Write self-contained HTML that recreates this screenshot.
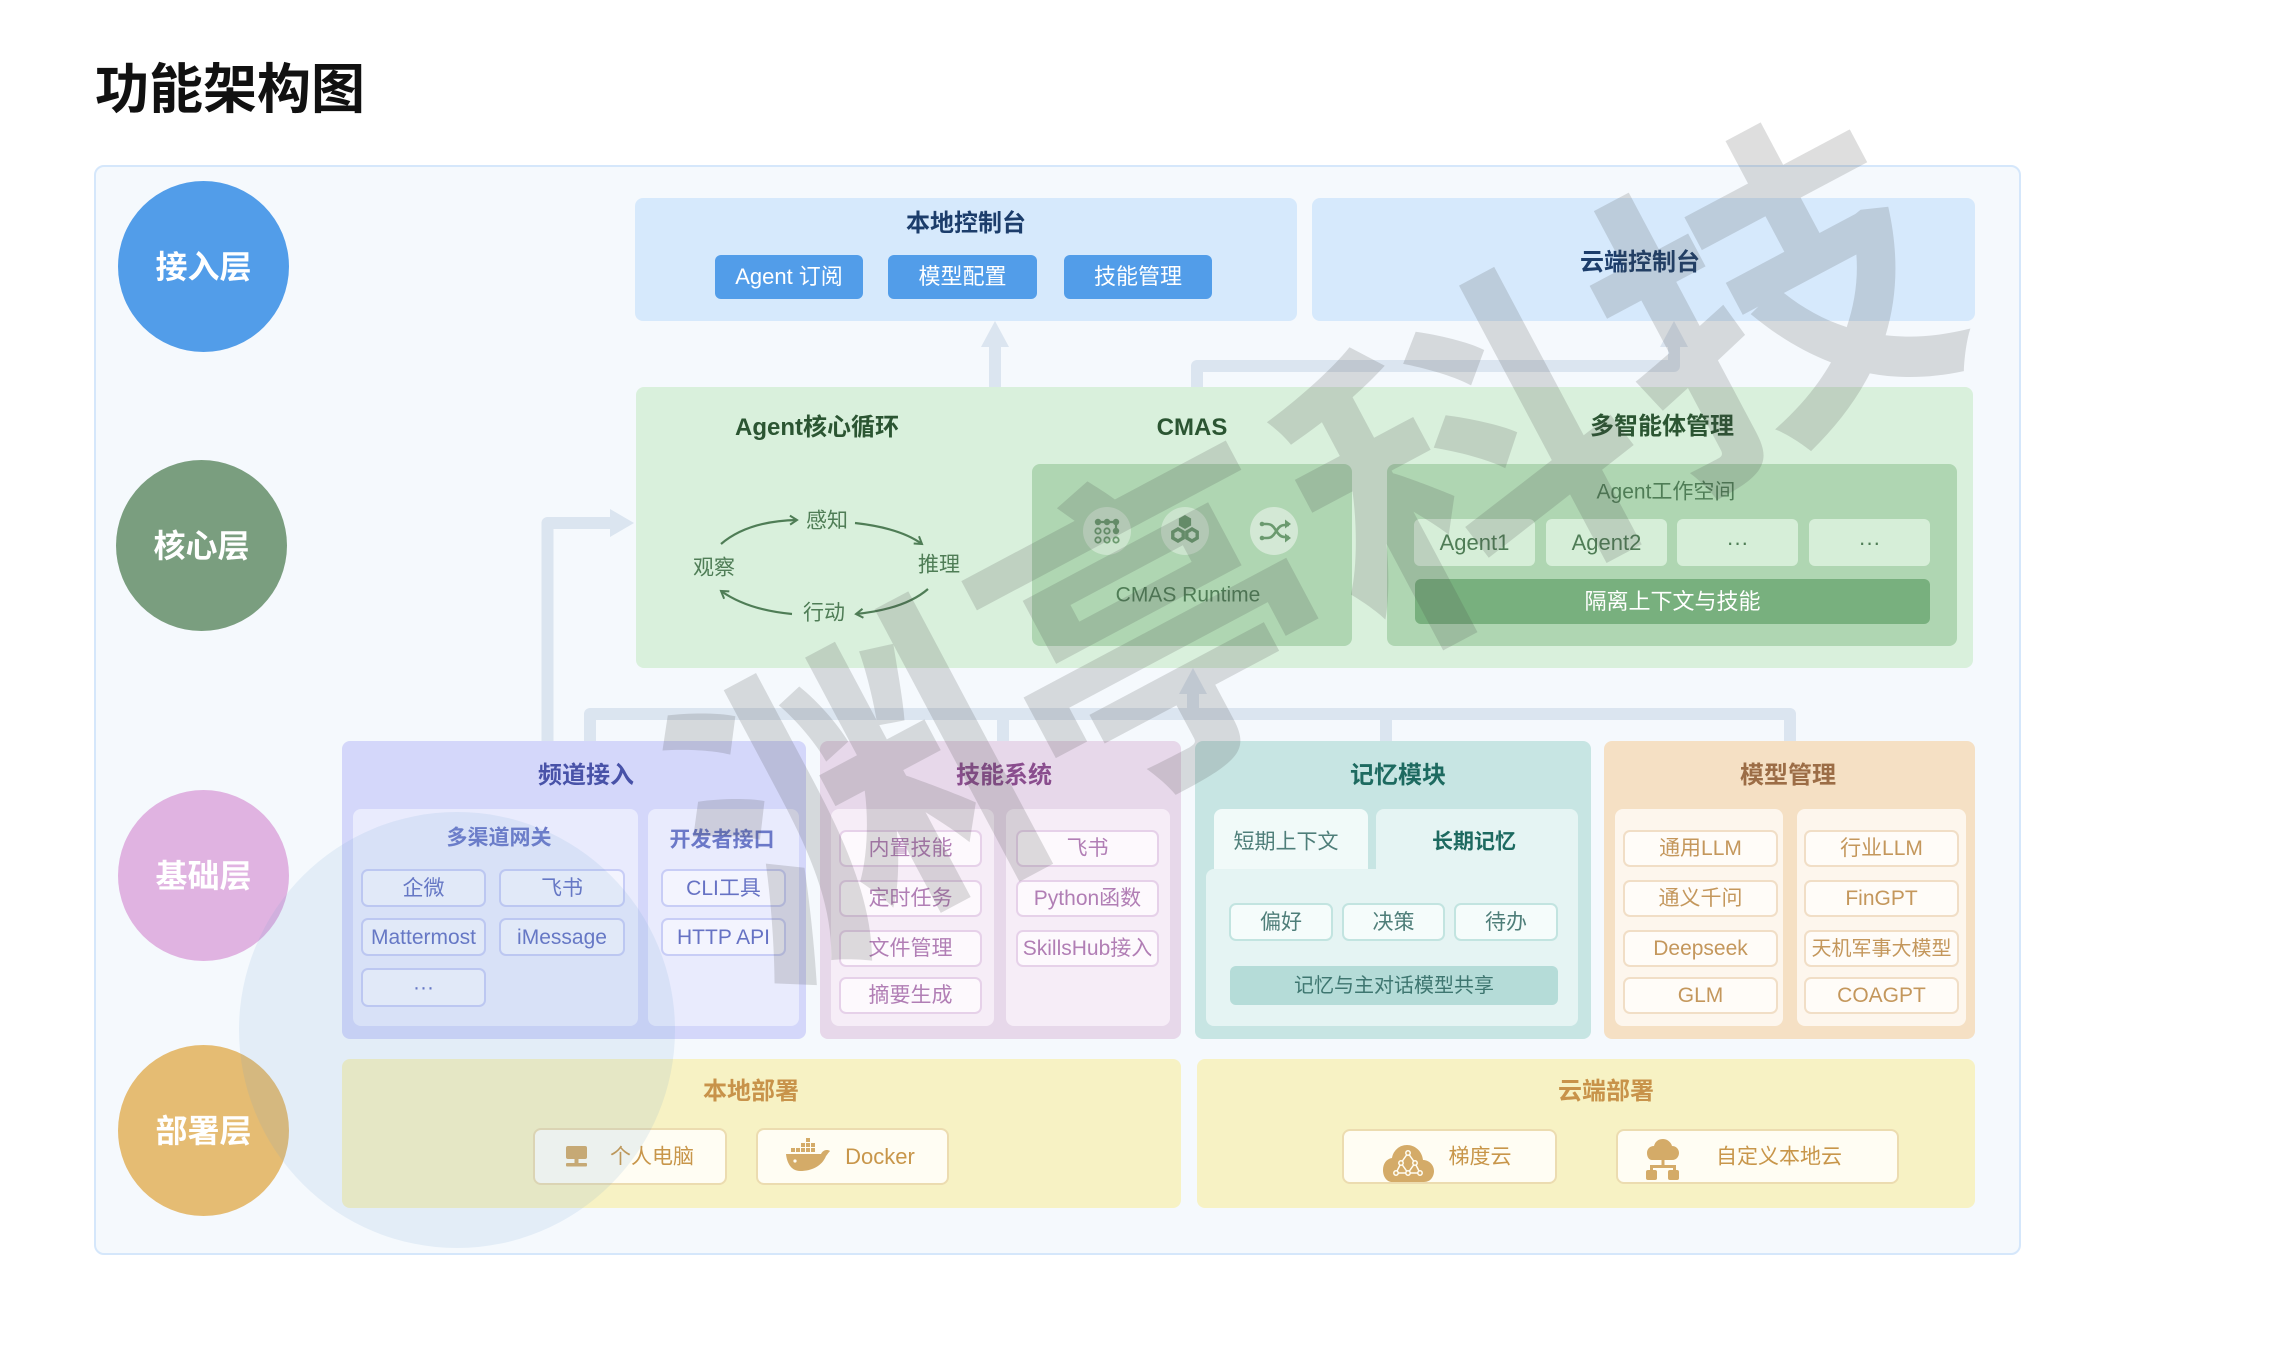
<!DOCTYPE html>
<html><head><meta charset="utf-8">
<style>
*{box-sizing:border-box;margin:0;padding:0}
body{width:2282px;height:1355px;background:#fff;position:relative;overflow:hidden;font-family:"Liberation Sans","Noto Sans CJK SC",sans-serif}
.a{position:absolute}
.t{position:absolute;transform:translate(-50%,-50%);white-space:nowrap;line-height:1}
.b{font-weight:bold}
.box{position:absolute;display:flex;align-items:center;justify-content:center;white-space:nowrap;line-height:1}
.cir{position:absolute;width:171px;height:171px;border-radius:50%;display:flex;align-items:center;justify-content:center;color:#fff;font-weight:bold;font-size:32px;line-height:1}
.btn{background:#529de9;color:#fff;border-radius:6px;font-size:22px}
.chip{background:#d6eed8;color:#4f7d56;border-radius:6px;font-size:22px}
.li{border:2px solid #c8cdf6;background:#f3f4fe;color:#6672c4;border-radius:7px;font-size:21px}
.si{border:2px solid #e6d1e9;background:#fdf9fd;color:#b17eb5;border-radius:7px;font-size:21px}
.mi{border:2px solid #f1dec6;background:#fffcf8;color:#c4975c;border-radius:7px;font-size:21px}
.ci{border:2px solid #c2e4e0;background:#f5fcfb;color:#4e7e79;border-radius:7px;font-size:21px}
.db{border:2px solid #ecdcb0;background:#fffdf3;border-radius:8px}
.dt{color:#c8964a;font-size:21px}
</style></head><body>

<div class="a b" style="left:95px;top:63px;font-size:54px;line-height:1;color:#111">功能架构图</div>

<div class="a" style="left:94px;top:165px;width:1927px;height:1090px;border:2px solid #d5e7fb;border-radius:10px;background:#f5f9fd"></div>

<!-- connectors -->
<svg class="a" style="left:0;top:0" width="2282" height="1355">
<g fill="none" stroke="#dbe5f0" stroke-width="12" stroke-linejoin="round">
<path d="M995 388 V344"/>
<path d="M1197 388 V366 H1674 V344"/>
<path d="M547.5 741 V523 H612"/>
<path d="M590 741 V714 H1790 V741"/>
<path d="M1003 714 V741"/>
<path d="M1386 714 V741"/>
<path d="M1193 714 V690"/>
</g>
<g fill="#dbe5f0">
<polygon points="995,321 981,347 1009,347"/>
<polygon points="1674,321 1660,347 1688,347"/>
<polygon points="634,523 610,509 610,537"/>
<polygon points="1193,668 1179,694 1207,694"/>
</g>
</svg>

<!-- layer circles -->
<div class="cir" style="left:118px;top:181px;background:#529de9">接入层</div>
<div class="cir" style="left:116px;top:460px;background:#7a9e7f">核心层</div>
<div class="cir" style="left:118px;top:790px;background:#e0b3e1">基础层</div>
<div class="cir" style="left:118px;top:1045px;background:#e5bc73">部署层</div>

<!-- Row 1 -->
<div class="a" style="left:635px;top:198px;width:662px;height:123px;background:#d6e9fc;border-radius:8px"></div>
<div class="t b" style="left:966px;top:224px;font-size:24px;color:#1c3d6b">本地控制台</div>
<div class="box btn" style="left:715px;top:255px;width:148px;height:44px">Agent 订阅</div>
<div class="box btn" style="left:888px;top:255px;width:149px;height:44px">模型配置</div>
<div class="box btn" style="left:1064px;top:255px;width:148px;height:44px">技能管理</div>

<div class="a" style="left:1312px;top:198px;width:663px;height:123px;background:#d6e9fc;border-radius:8px"></div>
<div class="t b" style="left:1640px;top:263px;font-size:24px;color:#1c3d6b">云端控制台</div>

<!-- Row 2 core -->
<div class="a" style="left:636px;top:387px;width:1337px;height:281px;background:#d9f0dc;border-radius:8px"></div>
<div class="t b" style="left:817px;top:428px;font-size:24px;color:#2b5532">Agent核心循环</div>
<div class="t b" style="left:1192px;top:428px;font-size:24px;color:#2b5532">CMAS</div>
<div class="t b" style="left:1662px;top:427px;font-size:24px;color:#2b5532">多智能体管理</div>

<div class="t" style="left:827px;top:521px;font-size:21px;color:#4f7d56">感知</div>
<div class="t" style="left:714px;top:568px;font-size:21px;color:#4f7d56">观察</div>
<div class="t" style="left:939px;top:565px;font-size:21px;color:#4f7d56">推理</div>
<div class="t" style="left:824px;top:613px;font-size:21px;color:#4f7d56">行动</div>

<div class="a" style="left:1032px;top:464px;width:320px;height:182px;background:#afd6b2;border-radius:8px"></div>
<div class="t" style="left:1188px;top:595px;font-size:21px;color:#4f7d56">CMAS Runtime</div>

<div class="a" style="left:1387px;top:464px;width:570px;height:182px;background:#afd6b2;border-radius:8px"></div>
<div class="t" style="left:1666px;top:492px;font-size:21px;color:#4f7d56">Agent工作空间</div>
<div class="box chip" style="left:1414px;top:519px;width:121px;height:47px">Agent1</div>
<div class="box chip" style="left:1546px;top:519px;width:121px;height:47px">Agent2</div>
<div class="box chip" style="left:1677px;top:519px;width:121px;height:47px">···</div>
<div class="box chip" style="left:1809px;top:519px;width:121px;height:47px">···</div>
<div class="box" style="left:1415px;top:579px;width:515px;height:45px;background:#78b07e;border-radius:6px;color:#fff;font-size:22px">隔离上下文与技能</div>

<!-- Row 3 -->
<div class="a" style="left:342px;top:741px;width:464px;height:298px;background:#d4d7fa;border-radius:8px"></div>
<div class="t b" style="left:586px;top:776px;font-size:24px;color:#4852a8">频道接入</div>
<div class="a" style="left:353px;top:809px;width:285px;height:217px;background:#e9ebfd;border-radius:8px"></div>
<div class="a" style="left:648px;top:809px;width:151px;height:217px;background:#e9ebfd;border-radius:8px"></div>
<div class="t b" style="left:499px;top:838px;font-size:21px;color:#6b78c8">多渠道网关</div>
<div class="t b" style="left:722px;top:840px;font-size:21px;color:#6b78c8">开发者接口</div>
<div class="box li" style="left:361px;top:869px;width:125px;height:38px">企微</div>
<div class="box li" style="left:499px;top:869px;width:126px;height:38px">飞书</div>
<div class="box li" style="left:361px;top:918px;width:125px;height:38px">Mattermost</div>
<div class="box li" style="left:499px;top:918px;width:126px;height:38px">iMessage</div>
<div class="box li" style="left:361px;top:968px;width:125px;height:39px">···</div>
<div class="box li" style="left:661px;top:869px;width:125px;height:38px">CLI工具</div>
<div class="box li" style="left:661px;top:918px;width:125px;height:38px">HTTP API</div>

<div class="a" style="left:820px;top:741px;width:361px;height:298px;background:#e7d8ea;border-radius:8px"></div>
<div class="t b" style="left:1004px;top:776px;font-size:24px;color:#8a4d8e">技能系统</div>
<div class="a" style="left:831px;top:809px;width:163px;height:217px;background:#f6edf7;border-radius:8px"></div>
<div class="a" style="left:1006px;top:809px;width:164px;height:217px;background:#f6edf7;border-radius:8px"></div>
<div class="box si" style="left:839px;top:830px;width:143px;height:37px">内置技能</div>
<div class="box si" style="left:839px;top:880px;width:143px;height:37px">定时任务</div>
<div class="box si" style="left:839px;top:930px;width:143px;height:37px">文件管理</div>
<div class="box si" style="left:839px;top:977px;width:143px;height:37px">摘要生成</div>
<div class="box si" style="left:1016px;top:830px;width:143px;height:37px">飞书</div>
<div class="box si" style="left:1016px;top:880px;width:143px;height:37px">Python函数</div>
<div class="box si" style="left:1016px;top:930px;width:143px;height:37px">SkillsHub接入</div>

<div class="a" style="left:1195px;top:741px;width:396px;height:298px;background:#c7e5e3;border-radius:8px"></div>
<div class="t b" style="left:1398px;top:776px;font-size:24px;color:#1d6a60">记忆模块</div>
<div class="a" style="left:1214px;top:809px;width:154px;height:62px;background:#f1faf9;border-radius:8px 8px 0 0"></div>
<div class="a" style="left:1376px;top:809px;width:202px;height:70px;background:#e5f4f3;border-radius:8px 8px 0 0"></div>
<div class="a" style="left:1206px;top:869px;width:372px;height:157px;background:#e5f4f3;border-radius:8px 0 8px 8px"></div>
<div class="t" style="left:1286px;top:842px;font-size:21px;color:#4e7e79">短期上下文</div>
<div class="t b" style="left:1474px;top:842px;font-size:21px;color:#1d6a60">长期记忆</div>
<div class="box ci" style="left:1229px;top:903px;width:104px;height:38px">偏好</div>
<div class="box ci" style="left:1342px;top:903px;width:103px;height:38px">决策</div>
<div class="box ci" style="left:1454px;top:903px;width:104px;height:38px">待办</div>
<div class="box" style="left:1230px;top:966px;width:328px;height:39px;background:#b5dcd8;border-radius:6px;color:#3e7670;font-size:20px">记忆与主对话模型共享</div>

<div class="a" style="left:1604px;top:741px;width:371px;height:298px;background:#f5e0c4;border-radius:8px"></div>
<div class="t b" style="left:1788px;top:776px;font-size:24px;color:#9c6d46">模型管理</div>
<div class="a" style="left:1615px;top:809px;width:168px;height:217px;background:#fdf6ed;border-radius:8px"></div>
<div class="a" style="left:1797px;top:809px;width:169px;height:217px;background:#fdf6ed;border-radius:8px"></div>
<div class="box mi" style="left:1623px;top:830px;width:155px;height:37px">通用LLM</div>
<div class="box mi" style="left:1623px;top:880px;width:155px;height:37px">通义千问</div>
<div class="box mi" style="left:1623px;top:930px;width:155px;height:37px">Deepseek</div>
<div class="box mi" style="left:1623px;top:977px;width:155px;height:37px">GLM</div>
<div class="box mi" style="left:1804px;top:830px;width:155px;height:37px">行业LLM</div>
<div class="box mi" style="left:1804px;top:880px;width:155px;height:37px">FinGPT</div>
<div class="box mi" style="left:1804px;top:930px;width:155px;height:37px;font-size:20px">天机军事大模型</div>
<div class="box mi" style="left:1804px;top:977px;width:155px;height:37px">COAGPT</div>

<!-- Row 4 -->
<div class="a" style="left:342px;top:1059px;width:839px;height:149px;background:#f7f2c4;border-radius:8px"></div>
<div class="t b" style="left:751px;top:1092px;font-size:24px;color:#c8934a">本地部署</div>
<div class="a db" style="left:533px;top:1128px;width:194px;height:57px"></div>
<div class="a db" style="left:756px;top:1128px;width:193px;height:57px"></div>
<div class="t dt" style="left:652px;top:1157px">个人电脑</div>
<div class="t dt" style="left:880px;top:1157px;font-size:22px">Docker</div>

<div class="a" style="left:1197px;top:1059px;width:778px;height:149px;background:#f7f2c4;border-radius:8px"></div>
<div class="t b" style="left:1606px;top:1092px;font-size:24px;color:#c8934a">云端部署</div>
<div class="a db" style="left:1342px;top:1129px;width:215px;height:55px"></div>
<div class="a db" style="left:1616px;top:1129px;width:283px;height:55px"></div>
<div class="t dt" style="left:1480px;top:1157px">梯度云</div>
<div class="t dt" style="left:1779px;top:1157px">自定义本地云</div>

<!-- icons & cycle arrows -->
<svg class="a" style="left:0;top:0" width="2282" height="1355">
<defs>
<marker id="ah" markerWidth="12" markerHeight="12" refX="9" refY="6" orient="auto" markerUnits="userSpaceOnUse">
<path d="M2,1.5 L9,6 L2,10.5" fill="none" stroke="#4f7d56" stroke-width="2"/>
</marker>
</defs>
<g fill="none" stroke="#4f7d56" stroke-width="2.2" marker-end="url(#ah)">
<path d="M721 544 Q748 521 797 520"/>
<path d="M855 523 Q900 528 922 544"/>
<path d="M928 589 Q905 609 856 614"/>
<path d="M792 614 Q748 610 721 591"/>
</g>

<!-- CMAS icons -->
<circle cx="1107" cy="531" r="24" fill="rgba(255,255,255,0.35)"/>
<circle cx="1185" cy="531" r="24" fill="rgba(255,255,255,0.35)"/>
<circle cx="1274" cy="531" r="24" fill="rgba(255,255,255,0.45)"/>
<g fill="#6b9a6f" stroke="#6b9a6f">
<path d="M1098 522 H1116 V531" fill="none" stroke-width="2.2"/>
<circle cx="1098" cy="522" r="3.2" stroke="none"/>
<circle cx="1107" cy="522" r="3.2" stroke="none"/>
<circle cx="1116" cy="522" r="3.2" stroke="none"/>
<circle cx="1116" cy="531" r="3.2" stroke="none"/>
<g fill="none" stroke-width="1.8">
<circle cx="1098" cy="531" r="2.7"/><circle cx="1107" cy="531" r="2.7"/>
<circle cx="1098" cy="540" r="2.7"/><circle cx="1107" cy="540" r="2.7"/><circle cx="1116" cy="540" r="2.7"/>
</g>
<polygon points="1185,515 1191.1,518.5 1191.1,525.5 1185,529 1178.9,525.5 1178.9,518.5" stroke="none"/>
<polygon points="1178,529 1183.2,532 1183.2,538 1178,541 1172.8,538 1172.8,532" fill="none" stroke-width="3.4"/>
<polygon points="1192,529 1197.2,532 1197.2,538 1192,541 1186.8,538 1186.8,532" fill="none" stroke-width="3.4"/>
<g fill="none" stroke-width="2.6">
<path d="M1262 524 h5 c4 0 6 2 8 5 l2 3 c2 3 4 5 8 5 h4"/>
<path d="M1262 538 h5 c4 0 6 -2 8 -5 l2 -3 c2 -3 4 -5 8 -5 h4"/>
</g>
<polygon points="1291,524 1285,519.5 1285,528.5" stroke="none"/>
<polygon points="1291,538 1285,533.5 1285,542.5" stroke="none"/>
<circle cx="1262" cy="524" r="2.3" stroke="none"/>
<circle cx="1262" cy="538" r="2.3" stroke="none"/>
</g>

<!-- deploy icons -->
<g fill="#d4ab68">
<rect x="566" y="1146" width="21" height="13" rx="2"/>
<rect x="574.5" y="1159" width="4" height="4"/>
<rect x="566" y="1163" width="21" height="3.5" rx="1"/>

<rect x="806" y="1138" width="4" height="4"/>
<rect x="801" y="1143" width="4" height="4"/><rect x="806" y="1143" width="4" height="4"/><rect x="811" y="1143" width="4" height="4"/>
<rect x="791" y="1148" width="4" height="4"/><rect x="796" y="1148" width="4" height="4"/><rect x="801" y="1148" width="4" height="4"/><rect x="806" y="1148" width="4" height="4"/><rect x="811" y="1148" width="4" height="4"/>
<path d="M786 1154 H821 C823 1150 827 1149 830 1151 C828 1153 827 1155 826 1156 C822 1166 812 1171 800 1171 C792 1171 787 1164 786 1154 Z"/>

<path d="M1392 1182 H1424 C1431 1182 1434 1176 1434 1171 C1434 1165 1429 1160 1423 1160 C1422 1151 1415 1145 1407 1145 C1399 1145 1393 1151 1392 1158 C1386 1159 1383 1164 1383 1170 C1383 1177 1387 1182 1392 1182 Z"/>

<path d="M1652 1160 H1672 C1677 1160 1679 1156 1679 1153 C1679 1149 1676 1146 1672 1146 C1671 1142 1667 1139 1663 1139 C1658 1139 1655 1142 1654 1146 C1650 1146 1647 1149 1647 1153 C1647 1157 1649 1160 1652 1160 Z"/>
<rect x="1661.5" y="1159" width="3" height="8"/>
<rect x="1650" y="1165" width="26" height="3"/>
<rect x="1650" y="1165" width="3" height="7"/>
<rect x="1673" y="1165" width="3" height="7"/>
<rect x="1646" y="1170" width="11" height="10" rx="2"/>
<rect x="1668" y="1170" width="11" height="10" rx="2"/>
</g>
<circle cx="795" cy="1161" r="1.6" fill="#fffdf3"/>
<g stroke="#fffdf3" stroke-width="1.5" fill="none">
<path d="M1408 1153 L1401 1163 L1396 1173 M1408 1153 L1415 1163 L1420 1173 M1401 1163 L1408 1173 L1415 1163 M1396 1173 H1420"/>
<circle cx="1408" cy="1153" r="2.2" fill="#d4ab68"/>
<circle cx="1401" cy="1163" r="2.2" fill="#d4ab68"/>
<circle cx="1415" cy="1163" r="2.2" fill="#d4ab68"/>
<circle cx="1396" cy="1173" r="2.2" fill="#d4ab68"/>
<circle cx="1408" cy="1173" r="2.2" fill="#d4ab68"/>
<circle cx="1420" cy="1173" r="2.2" fill="#d4ab68"/>
</g>
</svg>

<!-- watermarks -->
<svg class="a" style="left:0;top:0;pointer-events:none" width="2282" height="1355">
<circle cx="457" cy="1030" r="218" fill="rgba(110,160,210,0.13)"/>
<g fill="rgba(70,70,70,0.18)" font-family="Noto Sans CJK SC, sans-serif" font-weight="bold" font-size="335" text-anchor="middle" dominant-baseline="central">
<text x="1761" y="280" transform="rotate(-28 1761 280)">技</text>
<text x="1454" y="446" transform="rotate(-28 1454 446)">科</text>
<text x="1147" y="612" transform="rotate(-28 1147 612)">亭</text>
<text x="841" y="778" transform="rotate(-28 841 778)">渊</text>
</g>
</svg>

</body></html>
